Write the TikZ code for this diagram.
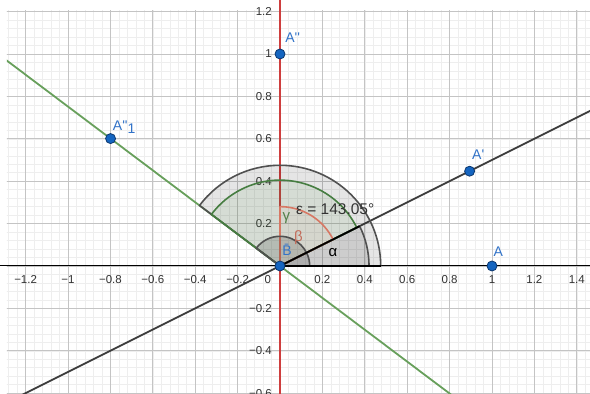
\documentclass[tikz,border=0pt]{standalone}
\usepackage{fontspec}
\setmainfont{Liberation Sans}
\usetikzlibrary{calc}
\definecolor{gridminor}{RGB}{238,238,238}
\definecolor{gridmajor}{RGB}{196,196,196}
\definecolor{ggred}{RGB}{206,62,62}
\definecolor{gggreen}{RGB}{104,160,92}
\definecolor{ggdkgreen}{RGB}{70,125,65}
\definecolor{ggblack}{RGB}{60,60,60}
\definecolor{ggsector}{RGB}{80,80,80}
\definecolor{ggpoint}{RGB}{21,101,192}
\definecolor{ggpointdk}{RGB}{12,55,110}
\definecolor{gglabel}{RGB}{50,115,200}
\definecolor{ggsalmon}{RGB}{215,120,100}
\definecolor{ggtick}{RGB}{50,50,50}
\tikzset{
  ticklab/.style={text=ggtick, font=\fontsize{11.5}{12}\selectfont, inner sep=0pt},
  ptlab/.style={text=gglabel, font=\fontsize{14}{15}\selectfont, inner sep=0pt},
  anglab/.style={font=\fontsize{15}{16}\selectfont, inner sep=0pt},
  ptdot/.style={circle, fill=ggpoint, draw=ggpointdk, line width=0.8pt, minimum size=10pt, inner sep=0pt},
  sectorline/.style={line width=1.6pt, line join=round},
  geoline/.style={line width=1.8pt}
}
\begin{document}
\begin{tikzpicture}[x=212pt,y=212pt]
\useasboundingbox (-1.3208,-0.6038) rectangle (1.4623,1.2547);
\fill[white] (-1.3208,-0.6038) rectangle (1.4623,1.2547);
% grid
\begin{scope}
\clip (-1.288,-0.6038) rectangle (1.4623,1.2075);
\draw[gridminor, line width=0.5pt, step=0.04] (-1.32,-0.64) grid (1.48,1.28);
\draw[gridmajor, line width=0.7pt, step=0.2] (-1.4,-0.8) grid (1.6,1.4);
\end{scope}
% named points
\coordinate (O) at (0,0);
\coordinate (A) at (1,0);
\coordinate (Ap) at (0.8944,0.4472);
\coordinate (App) at (0,1);
\coordinate (A1) at (-0.7993,0.6010);
\coordinate (xl) at (-1.3208,0);
\coordinate (xr) at (1.4623,0);
\coordinate (yb) at (0,-0.6038);
\coordinate (yt) at (0,1.2547);
% axes
\draw[black, line width=1pt] (xl) -- (xr);
\draw[black, line width=1pt] (yb) -- (yt);
% tick labels
\foreach \v/\t [count=\i] in {-1.2/−1.2,-1/−1,-0.8/−0.8,-0.6/−0.6,-0.4/−0.4,-0.2/−0.2,0.2/0.2,0.4/0.4,0.6/0.6,0.8/0.8,1/1,1.2/1.2,1.4/1.4}
  \node[ticklab] (xt\i) at (\v,-0.062) {\t};
\node[ticklab] (xt0) at (-0.057,-0.062) {0};
\foreach \v/\t [count=\i] in {1.2/1.2,1/1,0.8/0.8,0.6/0.6,0.4/0.4,0.2/0.2,-0.2/−0.2,-0.4/−0.4}
  \node[ticklab, anchor=east] (yt\i) at (-0.038,\v) {\t};
\node[ticklab, anchor=east] (yt9) at (-0.038,-0.6) {−0.6};
% lines
\begin{scope}
\clip (-1.288,-0.6038) rectangle (1.4623,1.2547);
\draw[ggblack, geoline] ($(O)!-4!(Ap)$) -- ($(O)!4!(Ap)$);
\draw[gggreen, geoline] ($(O)!-3!(A1)$) -- ($(O)!3!(A1)$);
\draw[ggred, geoline] ($(O)!-2!(App)$) -- ($(O)!2!(App)$);
\end{scope}
% angle sectors
\filldraw[sectorline, draw=ggsector, fill=black, fill opacity=0.1] (O) -- ++(0:0.475) arc[start angle=0, end angle=143.05, radius=0.475] -- cycle;
\filldraw[sectorline, draw=ggsector, fill=black, fill opacity=0.1] (O) -- ++(0:0.42) arc[start angle=0, end angle=26.57, radius=0.42] -- cycle;
\filldraw[sectorline, draw=ggdkgreen, fill=gggreen, fill opacity=0.12] (O) -- ++(26.57:0.405) arc[start angle=26.57, end angle=143.05, radius=0.405] -- cycle;
\filldraw[sectorline, draw=ggsalmon, fill=ggsalmon, fill opacity=0.06] (O) -- ++(26.57:0.28) arc[start angle=26.57, end angle=90, radius=0.28] -- cycle;
\filldraw[sectorline, draw=ggsector, fill=black, fill opacity=0.15] (O) -- ++(0:0.14) arc[start angle=0, end angle=143.05, radius=0.14] -- cycle;
\draw[black, line width=1.8pt] (O) -- ++(0:0.475);
\draw[black, line width=1.8pt] (O) -- ++(26.57:0.42);
% angle labels
\node[anglab, text=black] (lalpha) at (0.25,0.063) {α};
\node[anglab, text=ggsalmon!90!black] (lbeta) at (0.087,0.132) {β};
\node[anglab, text=gggreen!80!black] (lgamma) at (0.03,0.228) {γ};
\node[anglab, text=ggtick, anchor=west, font=\fontsize{15.5}{16}\selectfont] (leps) at (0.075,0.266) {ε = 143.05°};
% points
\node[ptdot] (pA) at (A) {};
\node[ptdot] (pAp) at (Ap) {};
\node[ptdot] (pApp) at (App) {};
\node[ptdot] (pA1) at (A1) {};
\node[ptdot] (pB) at (O) {};
% point labels
\node[ptlab] (lA) at (1.03,0.068) {A};
\node[ptlab] (lAp) at (0.935,0.524) {A\textquotesingle};
\node[ptlab] (lApp) at (0.06,1.075) {A\textquotesingle\textquotesingle};
\node[ptlab] (lA1) at (-0.735,0.655) {A\textquotesingle\textquotesingle\raisebox{-0.5ex}{1}};
\node[ptlab] (lB) at (0.033,0.077) {\=B};
\end{tikzpicture}
\end{document}
